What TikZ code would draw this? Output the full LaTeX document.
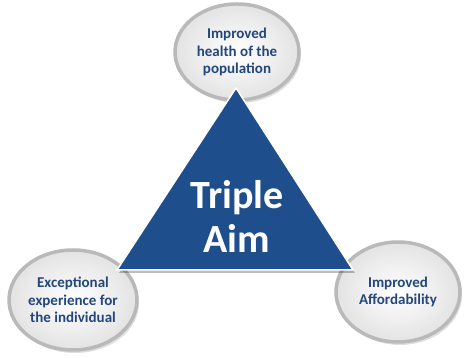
\documentclass[tikz,border=0pt]{standalone}
\usepackage{fontspec}
\setmainfont{Carlito}
\usetikzlibrary{shapes.geometric,shadows}
\definecolor{aimblue}{RGB}{31,78,140}
\definecolor{labelblue}{RGB}{35,70,125}
\tikzset{
  bubble/.style={ellipse, inner sep=0pt, draw=gray!55, line width=3.5pt,
    inner color=white, outer color=gray!22,
    drop shadow={shadow xshift=2pt, shadow yshift=-3pt, opacity=.25},
    text=labelblue, align=center, font=\bfseries\fontsize{15}{17.5}\selectfont},
  aim/.style={text=white, align=center, font=\bfseries\fontsize{40}{44}\selectfont}
}
\begin{document}
\begin{tikzpicture}[x=1pt,y=1pt]
  \useasboundingbox (0,0) rectangle (466,358);
  % the three goals
  \node[bubble, minimum width=124pt, minimum height=96pt] (health) at (237,306) {Improved\\health of the\\population};
  \node[bubble, minimum width=128pt, minimum height=100pt] (experience) at (73,58) {Exceptional\\experience for\\the individual};
  \node[bubble, minimum width=124pt, minimum height=100pt] (cost) at (398,66) {Improved\\Affordability};

  % triangle
  \coordinate (top) at (236,270);
  \coordinate (left) at (117,88);
  \coordinate (right) at (353,88);
  \fill[black, opacity=.25] ([xshift=2pt,yshift=-3pt]top) -- ([xshift=2pt,yshift=-3pt]left) -- ([xshift=2pt,yshift=-3pt]right) -- cycle;
  \filldraw[fill=aimblue, draw=white, line width=1.5pt, line join=miter] (top) -- (left) -- (right) -- cycle;
  \node[aim] (triple) at (237,142) {Triple\\Aim};
\end{tikzpicture}
\end{document}
